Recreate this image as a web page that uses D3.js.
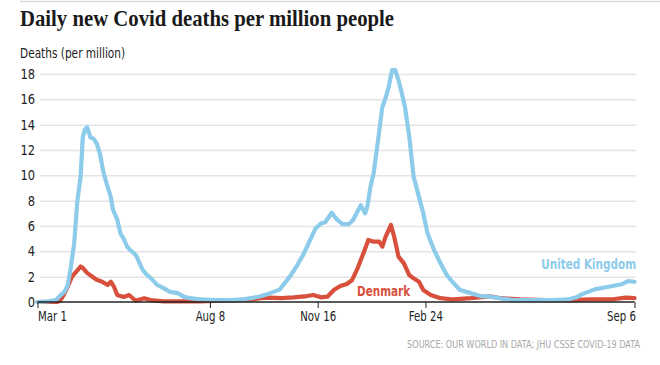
<!DOCTYPE html>
<html>
<head>
<meta charset="utf-8">
<script src="https://cdn.jsdelivr.net/npm/d3@7"></script>
<style>
  html, body { margin: 0; padding: 0; background: #fff; }
  svg { display: block; }
</style>
</head>
<body>
<svg id="chart" width="660" height="365"></svg>
<script>
// ---- DATA (days since 1 Mar 2020, deaths per million, 7-day avg) ----
const startDate = "2020-03-01";
const ukDays = [0,10,17,21,25,28,31,34,37,40,42,44,46,48,49,52,55,58,61,65,68,70,74,77,80,83,86,89,92,96,98,102,105,111,117,123,130,136,142,151,165,180,190,198,207,216,225,235,241,247,253,258,263,267,273,278,283,289,293,300,304,306,309,312,317,320,323,326,329,332,335,338,341,345,349,354,358,362,368,374,380,386,392,402,411,420,429,442,455,467,480,492,501,505,517,530,542,548,554];
const ukValues = [0,0.05,0.15,0.5,0.8,1.3,2.8,4.6,8.0,9.9,13.0,13.6,13.8,13.3,13.0,12.9,12.5,11.7,10.3,9.1,8.3,7.3,6.5,5.4,5.0,4.4,4.1,3.9,3.6,2.8,2.5,2.1,1.9,1.35,1.1,0.8,0.7,0.4,0.3,0.2,0.15,0.15,0.2,0.3,0.45,0.7,1.0,2.1,2.9,3.8,4.9,5.8,6.2,6.3,7.05,6.5,6.15,6.15,6.5,7.65,7.0,7.5,9.1,10.2,13.4,15.4,16.1,17.0,18.3,18.3,17.5,16.5,15.4,13.05,9.9,8.3,7.0,5.4,4.1,3.05,2.1,1.5,0.95,0.7,0.47,0.42,0.3,0.15,0.15,0.15,0.15,0.2,0.4,0.6,1.0,1.2,1.4,1.65,1.6];
const dkDays = [0,18,21,24,28,32,37,40,42,46,51,55,60,65,68,71,74,80,85,91,99,105,117,150,188,198,207,216,226,238,250,256,263,269,275,281,287,292,297,303,307,312,317,320,323,328,331,335,340,345,349,354,358,365,374,386,402,420,430,448,471,495,513,532,546,554];
const dkValues = [0,0,0.1,0.5,1.2,2.0,2.5,2.8,2.7,2.3,2.0,1.75,1.6,1.35,1.6,1.2,0.55,0.4,0.55,0.1,0.3,0.15,0.05,0.05,0.15,0.2,0.3,0.35,0.3,0.37,0.47,0.55,0.37,0.42,0.95,1.26,1.42,1.74,2.66,3.97,4.9,4.76,4.76,4.37,5.15,6.08,5.15,3.58,3.05,2.13,1.87,1.6,0.95,0.55,0.3,0.2,0.3,0.45,0.3,0.2,0.15,0.15,0.2,0.2,0.35,0.3];
const xTickDates = ["2020-03-01","2020-08-08","2020-11-16","2021-02-24","2021-09-06"];
const xTickLabels = ["Mar 1","Aug 8","Nov 16","Feb 24","Sep 6"];
const yTicks = [0,2,4,6,8,10,12,14,16,18];
const seriesNames = ["United Kingdom","Denmark"];

(function () {
// ---- LAYOUT ----
const svg = d3.select("#chart");
const W = 660;
const mLeft = 37.5, mRight = 634.5, mTop = 74, mBottom = 302;
const colors = { uk: "#8ccbea", dk: "#d8503c" };
const sans = "'Liberation Sans Narrow','DejaVu Sans Condensed','Roboto',sans-serif";

// horizontally condensed text placed via a transform (keeps bounding boxes honest)
function condensedText(px, py, anchor, factor) {
  return svg.append("text")
    .attr("transform", `translate(${px},${py}) scale(${factor},1)`)
    .attr("x", 0).attr("y", 0).attr("text-anchor", anchor);
}
function squeeze(sel, factor) {
  sel.each(function () {
    const w = this.getComputedTextLength();
    d3.select(this).attr("textLength", w * factor).attr("lengthAdjust", "spacingAndGlyphs");
  });
}

const parse = d3.utcParse("%Y-%m-%d");
const t0 = parse(startDate);
const x = d3.scaleUtc().domain([parse(xTickDates[0]), parse(xTickDates[xTickDates.length-1])]).range([mLeft, mRight]);
const y = d3.scaleLinear().domain([0, 18]).range([mBottom, mTop]);

const ukData = ukDays.map((d,i) => ({date: d3.utcDay.offset(t0, d), v: ukValues[i]}));
const dkData = dkDays.map((d,i) => ({date: d3.utcDay.offset(t0, d), v: dkValues[i]}));

// top rule
svg.append("line").attr("x1", 20).attr("x2", W).attr("y1", 1.5).attr("y2", 1.5)
  .attr("stroke", "#dcdcdc").attr("stroke-width", 1.5);

// title
svg.append("text").attr("x", 20).attr("y", 26)
  .attr("font-family", "'Liberation Serif','DejaVu Serif',serif")
  .attr("font-weight", "bold").attr("font-size", 24).attr("fill", "#1a1a1a")
  .attr("textLength", 374).attr("lengthAdjust", "spacingAndGlyphs")
  .text("Daily new Covid deaths per million people");

// y-axis title
condensedText(20, 58, "start", 0.84)
  .attr("font-family", sans).attr("font-size", 14).attr("fill", "#222")
  .text("Deaths (per million)");

// gridlines
const grid = svg.append("g").attr("transform", `translate(40,0)`)
  .call(d3.axisLeft(y).tickValues(yTicks.filter(v => v > 0)).tickSize(-(mRight + 1.5 - 40)).tickFormat(""));
grid.select(".domain").remove();
grid.selectAll(".tick line").attr("stroke", "#e4e4e4").attr("stroke-width", 1.5);

// y labels
const yAx = svg.append("g").attr("transform", `translate(35,0)`)
  .call(d3.axisLeft(y).tickValues(yTicks).tickSize(0).tickPadding(0).tickFormat(d3.format("d")));
yAx.select(".domain").remove();
yAx.selectAll("text").attr("font-family", sans).attr("font-size", 14.5).attr("fill", "#222")
  .attr("transform", "scale(0.88,1)");

// lines
const line = d3.line().x(d => x(d.date)).y(d => y(d.v)).curve(d3.curveLinear);
svg.append("path").datum(dkData).attr("d", line).attr("fill", "none")
  .attr("stroke", colors.dk).attr("stroke-width", 4.2).attr("stroke-linejoin", "round").attr("stroke-linecap", "round");
svg.append("path").datum(ukData).attr("d", line).attr("fill", "none")
  .attr("stroke", colors.uk).attr("stroke-width", 4.2).attr("stroke-linejoin", "round").attr("stroke-linecap", "round");

// x axis
const xAx = svg.append("g").attr("transform", `translate(0,${mBottom})`)
  .call(d3.axisBottom(x).tickValues(xTickDates.map(parse)).tickSize(6).tickPadding(3)
    .tickFormat((d,i) => xTickLabels[i]));
xAx.select(".domain").attr("stroke", "#222").attr("stroke-width", 1.5).attr("d", `M${mLeft},0H${mRight}`);
xAx.selectAll(".tick line").attr("stroke", "#222").attr("stroke-width", 1);
const nT = xTickDates.length;
xAx.selectAll(".tick text").attr("font-family", sans).attr("font-size", 14.5).attr("fill", "#222")
  .attr("text-anchor", (d,i) => i === 0 ? "start" : (i === nT - 1 ? "end" : "middle"))
  .attr("x", (d,i) => i === nT - 1 ? 1 / 0.78 : 0)
  .attr("transform", "scale(0.78,1)");

// series labels
condensedText(636, 269, "end", 0.8)
  .attr("font-family", sans).attr("font-weight", "bold").attr("font-size", 14.5).attr("fill", colors.uk)
  .text(seriesNames[0]);
condensedText(357, 296, "start", 0.8)
  .attr("font-family", sans).attr("font-weight", "bold").attr("font-size", 14.5).attr("fill", colors.dk)
  .text(seriesNames[1]);

// source
condensedText(640, 348, "end", 0.82)
  .attr("font-family", sans).attr("font-size", 11).attr("fill", "#a8a8a8")
  .text("SOURCE: OUR WORLD IN DATA; JHU CSSE COVID-19 DATA");
})();
</script>
</body>
</html>
